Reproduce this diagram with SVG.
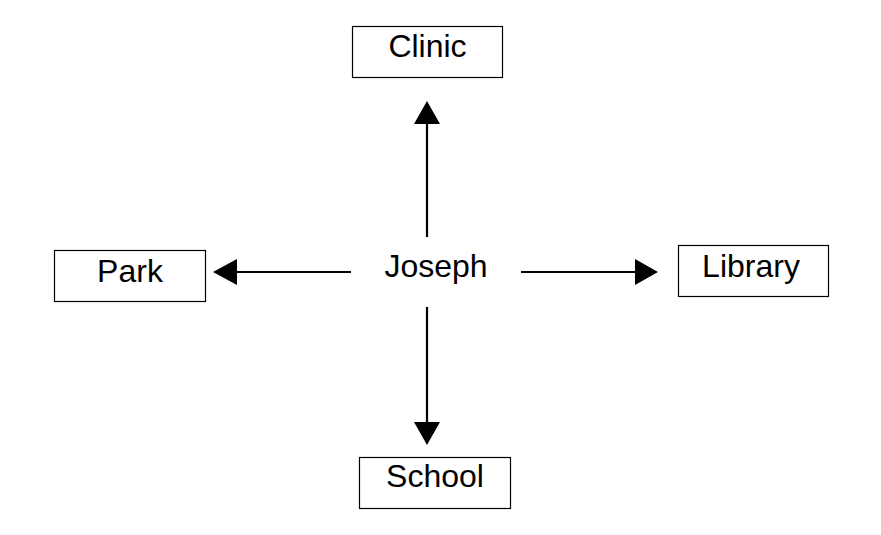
<svg xmlns="http://www.w3.org/2000/svg" width="881" height="535" viewBox="0 0 881 535">
<style>
.box{fill:#fff;stroke:#000;stroke-width:1.2}
.t{font-family:"Liberation Sans",Arial,sans-serif;font-size:32px;fill:#000;text-anchor:middle}
.c{stroke:#000;stroke-width:2.2;fill:none}
.h{fill:#000;stroke:none}
</style>
<rect width="881" height="535" fill="#fff"/>
<g id="clinic"><rect class="box" x="352.5" y="26.5" width="150" height="51"/><text class="t" x="427.5" y="57">Clinic</text></g>
<g id="park"><rect class="box" x="54.5" y="250.5" width="151" height="51"/><text class="t" x="130" y="282">Park</text></g>
<g id="library"><rect class="box" x="678.5" y="245.5" width="150" height="51"/><text class="t" x="751" y="277">Library</text></g>
<g id="school"><rect class="box" x="359.5" y="457.5" width="151" height="51"/><text class="t" x="435" y="487">School</text></g>
<g id="joseph"><text class="t" x="436" y="277">Joseph</text></g>
<g id="connectors">
<line class="c" x1="427" y1="237" x2="427" y2="123"/>
<polygon class="h" points="427,101 414,124 440,124"/>
<line class="c" x1="351" y1="272" x2="236" y2="272"/>
<polygon class="h" points="213,272 237,259 237,285"/>
<line class="c" x1="521" y1="272" x2="636" y2="272"/>
<polygon class="h" points="658,272 635,259 635,285"/>
<line class="c" x1="427" y1="307" x2="427" y2="423"/>
<polygon class="h" points="427,445 414,422 440,422"/>
</g>
</svg>
